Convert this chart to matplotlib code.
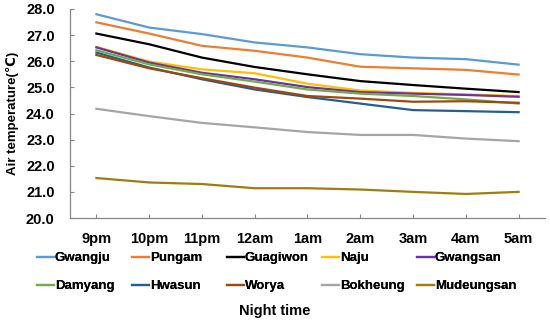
import matplotlib

matplotlib.use("Agg")
import matplotlib.pyplot as plt  # noqa: E402

hours = ["9pm", "10pm", "11pm", "12am", "1am", "2am", "3am", "4am", "5am"]

gwangju = [27.80, 27.29, 27.04, 26.72, 26.53, 26.27, 26.14, 26.08, 25.87]
pungam = [27.49, 27.06, 26.59, 26.40, 26.14, 25.79, 25.73, 25.67, 25.49]
guagiwon = [27.06, 26.65, 26.14, 25.78, 25.50, 25.24, 25.09, 24.95, 24.82]
naju = [26.55, 25.99, 25.69, 25.54, 25.14, 24.88, 24.79, 24.73, 24.67]
gwangsan = [26.53, 25.95, 25.56, 25.31, 25.01, 24.82, 24.76, 24.71, 24.64]
damyang = [26.42, 25.88, 25.50, 25.22, 24.92, 24.76, 24.67, 24.54, 24.38]
hwasun = [26.33, 25.76, 25.31, 24.92, 24.63, 24.38, 24.13, 24.09, 24.05]
worya = [26.24, 25.73, 25.35, 24.99, 24.67, 24.57, 24.45, 24.47, 24.41]
bokheung = [24.18, 23.90, 23.64, 23.47, 23.29, 23.18, 23.18, 23.04, 22.94]
mudeungsan = [21.53, 21.36, 21.30, 21.14, 21.14, 21.09, 21.00, 20.92, 21.00]

sites = ["Gwangju", "Pungam", "Guagiwon", "Naju", "Gwangsan",
         "Damyang", "Hwasun", "Worya", "Bokheung", "Mudeungsan"]
series = [gwangju, pungam, guagiwon, naju, gwangsan,
          damyang, hwasun, worya, bokheung, mudeungsan]
colors = ["#5B9BD5", "#ED7D31", "#000000", "#FFC000", "#7030A0",
          "#70AD47", "#255E91", "#9E480E", "#A5A5A5", "#A07D10"]

plt.rcParams["font.family"] = ["Liberation Sans", "DejaVu Sans"]

fig = plt.figure(figsize=(5.5, 3.24), dpi=100)
ax = fig.add_axes([70 / 550, 1 - 218 / 324, 475 / 550, 209 / 324])

x = range(len(hours))
lines = []
for name, vals, c in zip(sites, series, colors):
    (ln,) = ax.plot(x, vals, color=c, lw=1.6, label=name)
    lines.append(ln)

ax.set_xlim(-0.5, len(hours) - 0.5)
ax.set_ylim(20.0, 28.0)
ax.set_yticks([20 + i for i in range(9)])
ax.set_yticklabels([f"{20 + i:.1f}" for i in range(9)], fontsize=10.5, fontweight="bold")
ax.set_xticks(list(x))
ax.set_xticklabels(hours, fontsize=10.5, fontweight="bold")
ax.tick_params(axis="both", direction="in", length=3, color="#868686", width=0.8)
ax.tick_params(axis="x", pad=10)
ax.tick_params(axis="y", pad=11)
for side in ["top", "right"]:
    ax.spines[side].set_visible(False)
for side in ["left", "bottom"]:
    ax.spines[side].set_color("#868686")
    ax.spines[side].set_linewidth(0.9)

ax.set_ylabel("Air temperature(\u2103)", fontsize=9.5, fontweight="bold", labelpad=5)

# legend: 5 columns of 2 entries, evenly spaced like the original
for col in range(5):
    hs = [lines[col], lines[col + 5]]
    leg = fig.legend(hs, [h.get_label() for h in hs],
                     loc="upper left",
                     bbox_to_anchor=((37 + 95 * col) / 550, 1 - 252 / 324),
                     frameon=False, handlelength=1.3, handletextpad=0.05,
                     borderaxespad=0, borderpad=0, labelspacing=1.2,
                     prop={"weight": "bold", "size": 9.5})
    fig.add_artist(leg)

fig.text(275 / 550, 1 - 311 / 324, "Night time", ha="center", va="center",
         fontsize=10.5, fontweight="bold")

fig.savefig("out.png", dpi=100)
